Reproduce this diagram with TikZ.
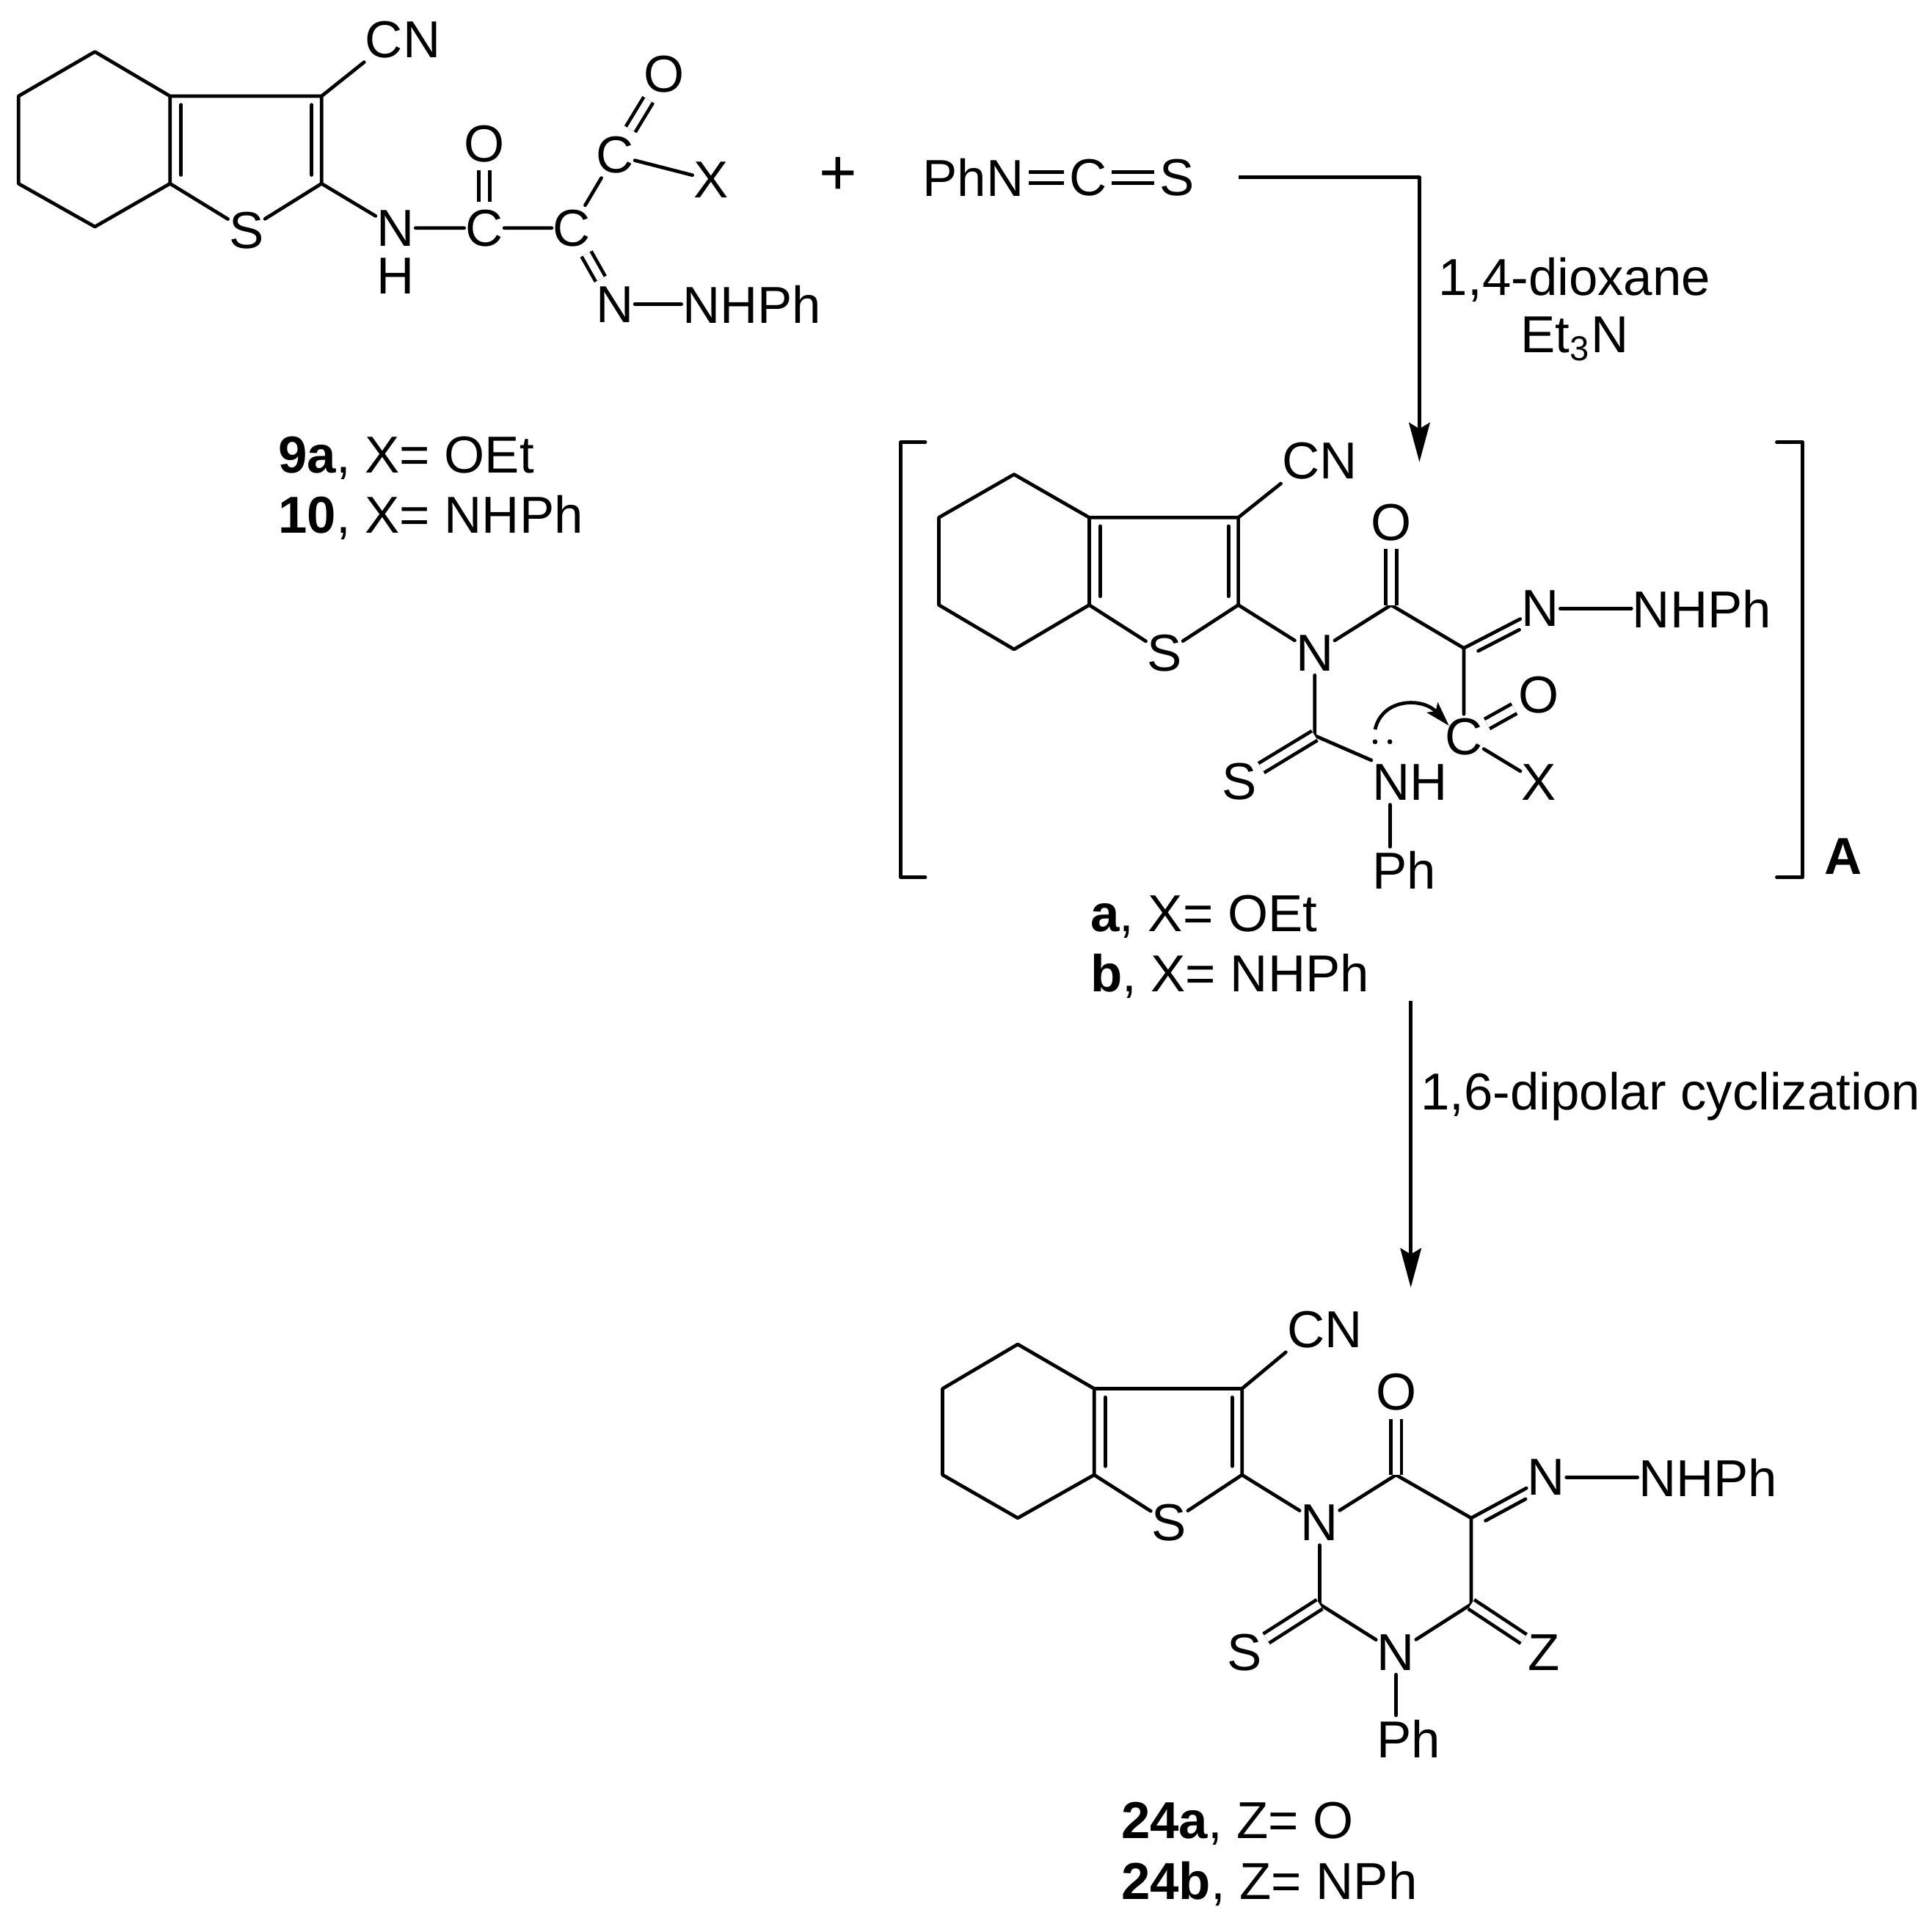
\documentclass[tikz,border=0pt]{standalone}
\usepackage{fontspec}
\setmainfont{Liberation Sans}
\usetikzlibrary{arrows.meta}
\tikzset{
  bond/.style={line width=0.8pt,line cap=round,line join=round},
  dbl/.style={double,double distance=0.6mm,line cap=butt,shorten >=0.3mm},
  dblgap/.style={dbl,shorten <=0.3mm},
  inbond/.style={transform canvas={shift={#1}},shorten <=0.7mm,shorten >=0.7mm},
  atom/.style={inner xsep=0.1mm,inner ysep=0.35mm,outer sep=0pt,font=\fontsize{12}{14}\selectfont},
  lab/.style={atom,anchor=west},
  rarrow/.style={bond,line cap=butt,-{Stealth[length=3.2mm,width=1.7mm,inset=0.5mm]}}
}
\begin{document}
\begin{tikzpicture}[x=0.1mm,y=-0.1mm,bond]
  \useasboundingbox (0,0) rectangle (1568,1568);

  \coordinate (h1a) at (77,42);
  \coordinate (h1b) at (138,78);
  \coordinate (h1c) at (138,149);
  \coordinate (h1d) at (77,184);
  \coordinate (h1e) at (15,149);
  \coordinate (h1f) at (15,78);
  \coordinate (t1a) at (261,78);
  \coordinate (t1b) at (261,149);
  \node[atom] (s1) at (200,187) {S};
  \node[atom] (cn1) at (327,32) {CN};
  \node[atom] (n1) at (321,185) {N};
  \node[atom] (h1) at (321,224) {H};
  \node[atom] (c1a) at (393,185) {C};
  \node[atom] (o1a) at (393,117) {O};
  \node[atom] (c1b) at (464,185) {C};
  \node[atom] (c1c) at (499,126) {C};
  \node[atom] (o1b) at (539,60) {O};
  \node[atom] (x1) at (577,146) {X};
  \node[atom] (n1a) at (499,247) {N};
  \node[lab] (ph1) at (553,247) {NHPh};
  \node[atom,font=\fontsize{15}{15}\selectfont] (plus) at (680,143) {+};
  \node[lab] (lab1a) at (225,372) {\textbf{9a}, X= OEt};
  \node[lab] (lab1b) at (225,420) {\textbf{10}, X= NHPh};
  \draw (h1b) -- (h1a) -- (h1f) -- (h1e) -- (h1d) -- (h1c) -- (h1b) -- (t1a) -- (t1b);
  \draw[inbond={(9,0)}] (h1b) -- (h1c);
  \draw[inbond={(-8,0)}] (t1a) -- (t1b);
  \draw (h1c) -- (s1) -- (t1b) -- (n1);
  \draw (t1a) -- (cn1.south west);
  \draw (n1) -- (c1a) -- (c1b) -- (c1c) -- (x1);
  \draw[dblgap] (c1a) -- (o1a);
  \draw[dblgap] (c1c) -- (o1b);
  \draw[dblgap] (c1b) -- (n1a);
  \draw (n1a) -- (ph1);

  \node[lab] (phn) at (748,144) {PhN};
  \node[atom] (cc) at (883,144) {C};
  \node[atom] (ss) at (955,144) {S};
  \draw[dblgap] (phn) -- (cc);
  \draw[dblgap] (cc) -- (ss);

  \coordinate (ara) at (1005,144);
  \coordinate (arb) at (1152,144);
  \coordinate (arc) at (1152,375);
  \draw[rarrow] (ara) -- (arb) -- (arc);
  \node[atom] (cond1) at (1278,227) {1,4-dioxane};
  \node[atom] (cond2) at (1278,275) {Et\textsubscript{3}N};

  \draw (751,359) -- (731,359) -- (731,712) -- (751,712);
  \draw (1442,359) -- (1463,359) -- (1463,712) -- (1442,712);
  \node[atom] (brA) at (1496,695) {\textbf{A}};

  \coordinate (h2a) at (823,385);
  \coordinate (h2b) at (884,420);
  \coordinate (h2c) at (884,491);
  \coordinate (h2d) at (823,527);
  \coordinate (h2e) at (762,491);
  \coordinate (h2f) at (762,420);
  \coordinate (t2a) at (1005,420);
  \coordinate (t2b) at (1005,491);
  \coordinate (c2a) at (1129,491);
  \coordinate (c2b) at (1188,526);
  \coordinate (c2d) at (1067,597);
  \node[atom] (s2) at (945,530) {S};
  \node[atom] (cn2) at (1071,374) {CN};
  \node[atom] (n2) at (1067,530) {N};
  \node[atom] (o2a) at (1129,424) {O};
  \node[atom] (n2a) at (1250,494) {N};
  \node[lab] (ph2a) at (1324,494) {NHPh};
  \node[atom] (c2c) at (1188,598) {C};
  \node[atom] (o2b) at (1249,564) {O};
  \node[atom] (x2) at (1249,635) {X};
  \node[atom] (s2a) at (1006,634) {S};
  \node[lab] (nh2) at (1113,635) {NH};
  \node[lab] (ph2b) at (1113,706) {Ph};
  \node[lab] (lab2a) at (884,744) {\textbf{a}, X= OEt};
  \node[lab] (lab2b) at (884,792) {\textbf{b}, X= NHPh};
  \draw (h2b) -- (h2a) -- (h2f) -- (h2e) -- (h2d) -- (h2c) -- (h2b) -- (t2a) -- (t2b);
  \draw[inbond={(9,0)}] (h2b) -- (h2c);
  \draw[inbond={(-8,0)}] (t2a) -- (t2b);
  \draw (h2c) -- (s2) -- (t2b) -- (n2);
  \draw (t2a) -- (cn2.south west);
  \draw (n2) -- (c2a) -- (c2b) -- (c2c) -- (x2);
  \draw[dbl] (c2a) -- (o2a);
  \draw (c2b) -- (n2a);
  \draw[inbond={(5.5,5.5)}] (c2b) -- (n2a);
  \draw (n2a) -- (ph2a);
  \draw[dblgap] (c2c) -- (o2b);
  \draw (n2) -- (c2d) -- (nh2.north west);
  \draw[dbl] (c2d) -- (s2a);
  \draw ([xshift=1.5mm]nh2.south west) -- ([xshift=1.5mm]ph2b.north west);
  \coordinate (lpa) at (1116,592);
  \coordinate (lpb) at (1176,589);
  \fill (1116,602) circle[radius=2];
  \fill (1128,602) circle[radius=2];
  \draw[bond,line cap=butt,-{Stealth[length=2mm,width=1.2mm,inset=0.4mm]}] (lpa) .. controls (1122,566) and (1155,566) .. (lpb);

  \coordinate (ard) at (1145,812);
  \coordinate (are) at (1145,1045);
  \draw[rarrow] (ard) -- (are);
  \node[lab] (cond3) at (1152,890) {1,6-dipolar cyclization};

  \coordinate (h3a) at (826,1091);
  \coordinate (h3b) at (888,1127);
  \coordinate (h3c) at (888,1197);
  \coordinate (h3d) at (826,1232);
  \coordinate (h3e) at (765,1197);
  \coordinate (h3f) at (765,1127);
  \coordinate (t3a) at (1008,1127);
  \coordinate (t3b) at (1008,1197);
  \coordinate (c3a) at (1133,1197);
  \coordinate (c3b) at (1194,1232);
  \coordinate (c3c) at (1194,1302);
  \coordinate (c3d) at (1071,1302);
  \node[atom] (s3) at (949,1236) {S};
  \node[atom] (cn3) at (1075,1079) {CN};
  \node[atom] (n3) at (1071,1236) {N};
  \node[atom] (o3a) at (1133,1130) {O};
  \node[atom] (n3a) at (1255,1199) {N};
  \node[lab] (ph3a) at (1329,1199) {NHPh};
  \node[atom] (n3b) at (1133,1341) {N};
  \node[atom] (s3a) at (1010,1341) {S};
  \node[atom] (z3) at (1253,1341) {Z};
  \node[atom] (ph3b) at (1143,1411) {Ph};
  \node[lab] (lab3a) at (909,1480) {\textbf{24a}, Z= O};
  \node[lab] (lab3b) at (909,1529) {\textbf{24b}, Z= NPh};
  \draw (h3b) -- (h3a) -- (h3f) -- (h3e) -- (h3d) -- (h3c) -- (h3b) -- (t3a) -- (t3b);
  \draw[inbond={(9,0)}] (h3b) -- (h3c);
  \draw[inbond={(-8,0)}] (t3a) -- (t3b);
  \draw (h3c) -- (s3) -- (t3b) -- (n3);
  \draw (t3a) -- (cn3.south west);
  \draw (n3) -- (c3a) -- (c3b) -- (c3c) -- (n3b) -- (c3d) -- (n3);
  \draw[dbl] (c3a) -- (o3a);
  \draw (c3b) -- (n3a);
  \draw[inbond={(5.5,5.5)}] (c3b) -- (n3a);
  \draw (n3a) -- (ph3a);
  \draw[dbl] (c3c) -- (z3);
  \draw[dbl] (c3d) -- (s3a);
  \draw (n3b) -- (n3b |- ph3b.north);
\end{tikzpicture}
\end{document}
